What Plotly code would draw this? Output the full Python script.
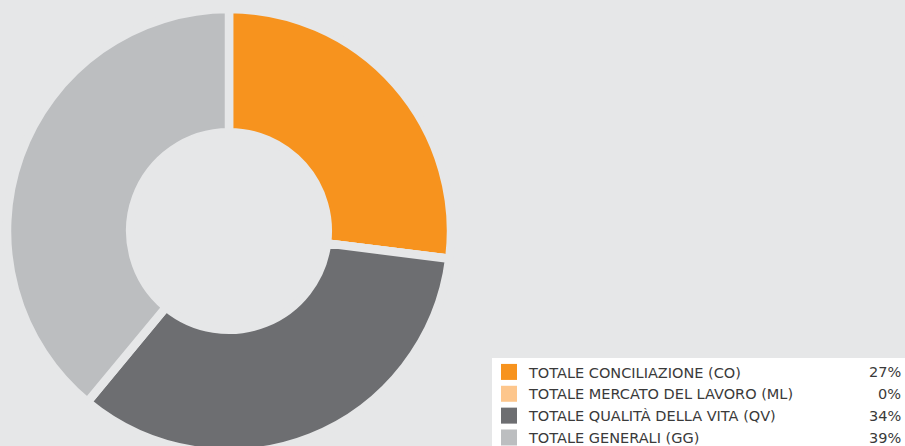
import plotly.graph_objects as go

labels = [
    "TOTALE CONCILIAZIONE (CO)",
    "TOTALE MERCATO DEL LAVORO (ML)",
    "TOTALE QUALITÀ DELLA VITA (QV)",
    "TOTALE GENERALI (GG)",
]
values = [27, 0, 34, 39]
colors = ["#f7931e", "#fdc68c", "#6d6e71", "#bcbec0"]

bg = "#e6e7e8"
text_color = "#3a3a3a"

# the original chart is cut off at the bottom: draw a slightly taller figure,
# the browser window only shows the top 446 px
W, H = 905, 460

fig = go.Figure()
fig.add_trace(
    go.Pie(
        labels=labels,
        values=values,
        hole=0.445,
        sort=False,
        direction="clockwise",
        rotation=0,
        textinfo="none",
        hoverinfo="label+percent",
        showlegend=False,
        marker=dict(colors=colors, line=dict(color=bg, width=8.5)),
        domain=dict(x=[7 / W, 451 / W], y=[7 / H, 451 / H]),
    )
)

# legend entries as square markers (pie legend symbols get eaten by the gap stroke)
for lab, col in zip(labels, colors):
    fig.add_trace(
        go.Scatter(
            x=[None],
            y=[None],
            mode="markers",
            name=lab,
            marker=dict(symbol="square", size=16, color=col, line_width=0),
            hoverinfo="skip",
        )
    )

panel_top = 358  # px from top
first_row = 372
row_h = 21.85

total = sum(values)
for i, v in enumerate(values):
    # percentages to the right of the legend rows
    fig.add_annotation(
        x=0.9975,
        y=(H - (first_row + row_h * i)) / H,
        xref="paper",
        yref="paper",
        xanchor="right",
        yanchor="middle",
        text=f"{round(v / total * 100)}%",
        showarrow=False,
        font=dict(size=14.5, color=text_color),
    )

# white legend panel reaching the right edge
fig.add_shape(
    type="rect",
    xref="paper",
    yref="paper",
    x0=492 / W,
    x1=1,
    y0=0,
    y1=(H - panel_top) / H,
    fillcolor="white",
    line_width=0,
    layer="below",
)

fig.update_xaxes(visible=False)
fig.update_yaxes(visible=False)
fig.update_layout(
    width=W,
    height=H,
    margin=dict(l=0, r=0, t=0, b=0),
    paper_bgcolor=bg,
    plot_bgcolor="rgba(0,0,0,0)",
    font=dict(family="DejaVu Sans, Open Sans, sans-serif", size=14.5, color=text_color),
    legend=dict(
        x=489 / W,
        y=(H - (first_row - 16)) / H,
        xanchor="left",
        yanchor="top",
        bgcolor="rgba(0,0,0,0)",
        itemclick=False,
        traceorder="normal",
    ),
)

fig.write_html(
    "out.html",
    config={"displayModeBar": False},
    post_script="document.body.style.margin='0';document.body.style.overflow='hidden';",
)
